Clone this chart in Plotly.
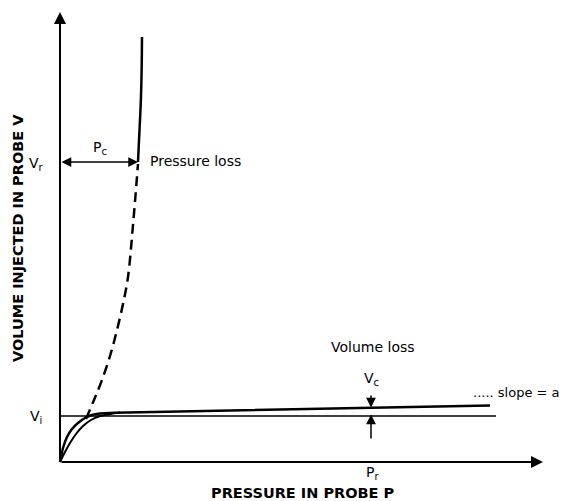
import plotly.graph_objects as go

# Schematic values (pressure P, volume V) in chart units, origin at the axes corner
p_fast = [0, 3, 7, 12, 18, 25, 32, 40, 55, 430]
v_fast = [0, 14, 25, 33, 39, 44, 47, 48.5, 49.3, 56.5]

p_slow = [0, 5, 10, 16, 23, 31, 40, 50, 60]
v_slow = [0, 10, 19, 28, 36, 42, 46, 48, 49.4]

p_dashed = [26, 34, 42, 50, 57, 63, 68, 73, 78]
v_dashed = [43, 62, 82, 106, 132, 158, 185, 237, 298]

p_steep = [78, 79.5, 80.8, 81.6, 82]
v_steep = [300, 332, 360, 390, 425]

p_vi = [0, 436]
v_vi = [46, 46]

V_I = 46
V_R = 300
P_C = 78
P_VC = 311
V_UPPER_AT_VC = 54.5

FONT = "DejaVu Sans"

fig = go.Figure()

fig.add_trace(go.Scatter(x=p_vi, y=v_vi, mode="lines",
                         line=dict(color="black", width=1.5)))
fig.add_trace(go.Scatter(x=p_slow, y=v_slow, mode="lines",
                         line=dict(color="black", width=2, shape="spline", smoothing=0.8)))
fig.add_trace(go.Scatter(x=p_fast, y=v_fast, mode="lines",
                         line=dict(color="black", width=2.5, shape="spline", smoothing=0.6)))
fig.add_trace(go.Scatter(x=p_dashed, y=v_dashed, mode="lines",
                         line=dict(color="black", width=2.5, dash="10px,6px", shape="spline")))
fig.add_trace(go.Scatter(x=p_steep, y=v_steep, mode="lines",
                         line=dict(color="black", width=2.5, shape="spline")))


def arrow(x, y, ax, ay, side="end", width=2, size=1.2):
    fig.add_annotation(x=x, y=y, ax=ax, ay=ay, xref="x", yref="y", axref="x", ayref="y",
                       text="", showarrow=True, arrowhead=2, arrowsize=size,
                       arrowwidth=width, arrowcolor="black", arrowside=side)


# axes
arrow(0, 450, 0, 0)
arrow(483, 0, 0, 0)
# Pc double arrow
arrow(P_C, V_R, 0, V_R, side="end+start", width=1.5, size=1.3)
# Vc arrows
arrow(P_VC, V_UPPER_AT_VC, P_VC, 68, width=1.5, size=1.3)
arrow(P_VC, V_I + 1.5, P_VC, 22, width=1.5, size=1.3)


def label(x, y, text, size=14, xanchor="center", angle=0, bold=False):
    fig.add_annotation(x=x, y=y, xref="x", yref="y", text=f"<b>{text}</b>" if bold else text,
                       showarrow=False, xanchor=xanchor, yanchor="middle", textangle=angle,
                       font=dict(family=FONT, size=size, color="black"))


label(-24, 298, "V<sub>r</sub>")
label(-24, 45, "V<sub>i</sub>")
label(40, 314, "P<sub>c</sub>")
label(88, 301, "Pressure loss", xanchor="left")
label(313, 115, "Volume loss")
label(311, 83, "V<sub>c</sub>")
label(411, 70, "..... slope = a", size=13, xanchor="left")
label(312, -11, "P<sub>r</sub>")
label(243, -31, "PRESSURE IN PROBE P", size=14.5, bold=True)
label(-42, 224, "VOLUME INJECTED IN PROBE V", size=14.5, angle=-90, bold=True)

# the page body adds an 8px margin, so the figure is 8px smaller than the window
fig.update_layout(
    width=560,
    height=493,
    margin=dict(l=0, r=0, t=0, b=0),
    plot_bgcolor="white",
    paper_bgcolor="white",
    showlegend=False,
    xaxis=dict(range=[-52, 508], visible=False, fixedrange=True),
    yaxis=dict(range=[-39, 454], visible=False, fixedrange=True),
)

fig.write_html("out.html")
